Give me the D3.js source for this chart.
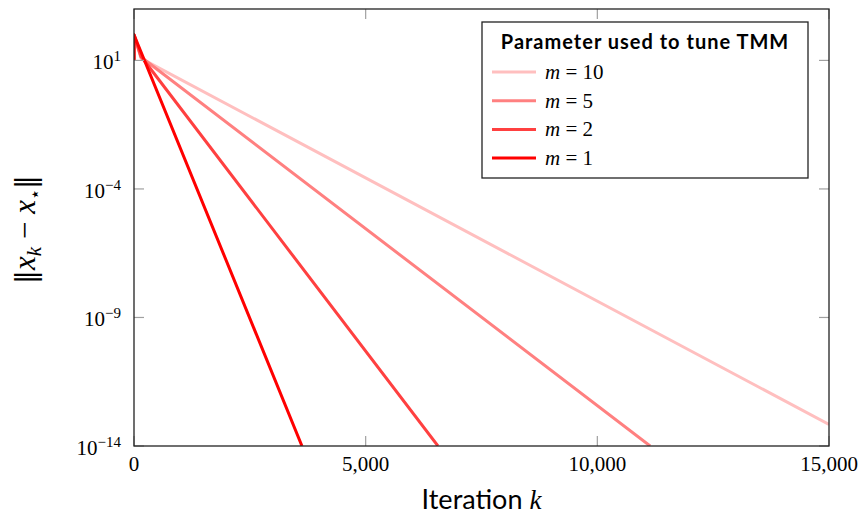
<!DOCTYPE html>
<html>
<head>
<meta charset="utf-8">
<script src="https://cdn.jsdelivr.net/npm/d3@7"></script>
<style>
  body { margin: 0; background: #fff; }
</style>
</head>
<body>
<svg id="chart" width="863" height="521"></svg>
<script>
// Chart data
const seriesNames = ["m = 10", "m = 5", "m = 2", "m = 1"];
const seriesParam = ["10", "5", "2", "1"];
const seriesColors = ["#ffbfbf", "#ff8080", "#ff4040", "#ff0000"];

// [iteration, error] points for each run (log-linear convergence)
const runM10 = [[0, 10], [0, 100], [150, 12], [15000, 6.9e-14]];
const runM5 = [[0, 10], [0, 100], [150, 13.5], [11140, 1e-14]];
const runM2 = [[0, 10], [0, 100], [150, 14.5], [6560, 1e-14]];
const runM1 = [[0, 10], [0, 100], [3625, 1e-14]];
const runs = [runM10, runM5, runM2, runM1];

const xTicks = [0, 5000, 10000, 15000];
const yTicks = [1e1, 1e-4, 1e-9, 1e-14];
const yTickExp = ["1", "\u22124", "\u22129", "\u221214"];

const SERIF = "'Liberation Serif', 'DejaVu Serif', serif";
const SANS = "Lato, 'Open Sans', sans-serif";

const svg = d3.select("#chart");
const margin = {left: 134, right: 34, top: 9, bottom: 75};
const width = 863, height = 521;
const plotW = width - margin.left - margin.right,
      plotH = height - margin.top - margin.bottom;

const x = d3.scaleLinear().domain([0, 15000]).range([0, plotW]);
const y = d3.scaleLog().domain([1e-14, 1e3]).range([plotH, 0]);

const g = svg.append("g").attr("transform", `translate(${margin.left},${margin.top})`);

// Clip so lines stop at the frame
g.append("clipPath").attr("id", "clip")
  .append("rect").attr("width", plotW).attr("height", plotH);

// Lines
const line = d3.line().x(d => x(d[0])).y(d => y(d[1]));
g.append("g").attr("clip-path", "url(#clip)")
  .selectAll("path")
  .data(runs)
  .enter().append("path")
  .attr("d", line)
  .attr("fill", "none")
  .attr("stroke", (d, i) => seriesColors[i])
  .attr("stroke-width", 3)
  .attr("stroke-linejoin", "round");

// Ticks (inward, on all four sides)
const TICK = 10;
const tickG = g.append("g").attr("stroke", "#a0a0a0").attr("stroke-width", 1.2);
xTicks.forEach(t => {
  tickG.append("line").attr("x1", x(t)).attr("x2", x(t)).attr("y1", plotH).attr("y2", plotH - TICK);
  tickG.append("line").attr("x1", x(t)).attr("x2", x(t)).attr("y1", 0).attr("y2", TICK);
});
yTicks.forEach(t => {
  tickG.append("line").attr("x1", 0).attr("x2", TICK).attr("y1", y(t)).attr("y2", y(t));
  tickG.append("line").attr("x1", plotW).attr("x2", plotW - TICK).attr("y1", y(t)).attr("y2", y(t));
});

// Frame
g.append("rect")
  .attr("width", plotW).attr("height", plotH)
  .attr("fill", "none").attr("stroke", "#222").attr("stroke-width", 1.3);

// X tick labels
const fmt = d3.format(",");
g.append("g").selectAll("text")
  .data(xTicks)
  .enter().append("text")
  .attr("font-family", SERIF)
  .attr("x", d => x(d))
  .attr("y", plotH + 25)
  .attr("text-anchor", "middle")
  .attr("font-size", 21)
  .text(d => fmt(d));

// Y tick labels (10 with superscript exponent)
yTicks.forEach((t, i) => {
  const txt = g.append("text")
    .attr("font-family", SERIF)
    .attr("x", -13)
    .attr("y", y(t) + 9)
    .attr("text-anchor", "end")
    .attr("font-size", 21);
  txt.append("tspan").text("10");
  txt.append("tspan").attr("font-size", 15).attr("dy", -8).text(yTickExp[i]);
});

// X axis title
const xt = svg.append("text")
  .attr("x", margin.left + plotW / 2)
  .attr("y", 509)
  .attr("text-anchor", "middle")
  .attr("font-size", 27);
xt.append("tspan").attr("font-family", SANS).text("Iteration ");
xt.append("tspan").attr("font-family", SERIF).attr("font-style", "italic").text("k");

// Y axis title
const yt = svg.append("text")
  .attr("font-family", SERIF)
  .attr("transform", `translate(35,${margin.top + plotH / 2 + 2}) rotate(-90)`)
  .attr("text-anchor", "middle")
  .attr("font-size", 31);
yt.append("tspan").attr("font-family", "DejaVu Serif").attr("font-size", 28).text("\u2016");
yt.append("tspan").attr("font-style", "italic").text("x");
yt.append("tspan").attr("font-style", "italic").attr("font-size", 21).attr("dy", 6).text("k");
yt.append("tspan").attr("dy", -6).text(" \u2212 ");
yt.append("tspan").attr("font-style", "italic").text("x");
yt.append("tspan").attr("font-size", 18).attr("dy", 6).text("\u22c6");
yt.append("tspan").attr("dy", -6).attr("font-family", "DejaVu Serif").attr("font-size", 28).text("\u2016");

// Legend
const legend = svg.append("g").attr("transform", "translate(482,22)");
legend.append("rect")
  .attr("width", 326).attr("height", 156)
  .attr("fill", "#fff").attr("stroke", "#222").attr("stroke-width", 1.3);
legend.append("text")
  .attr("font-family", SANS)
  .attr("x", 163).attr("y", 27)
  .attr("text-anchor", "middle")
  .attr("font-size", 20).attr("font-weight", "bold")
  .attr("letter-spacing", 1)
  .text("Parameter used to tune TMM");

seriesNames.forEach((name, i) => {
  const ry = 50 + i * 28.7;
  legend.append("line")
    .attr("x1", 10).attr("x2", 54).attr("y1", ry).attr("y2", ry)
    .attr("stroke", seriesColors[i]).attr("stroke-width", 3);
  const lt = legend.append("text")
    .attr("font-family", SERIF)
    .attr("x", 63).attr("y", ry + 7)
    .attr("font-size", 21);
  lt.append("tspan").attr("font-style", "italic").text("m");
  lt.append("tspan").text(" = " + seriesParam[i]);
});
</script>
</body>
</html>
